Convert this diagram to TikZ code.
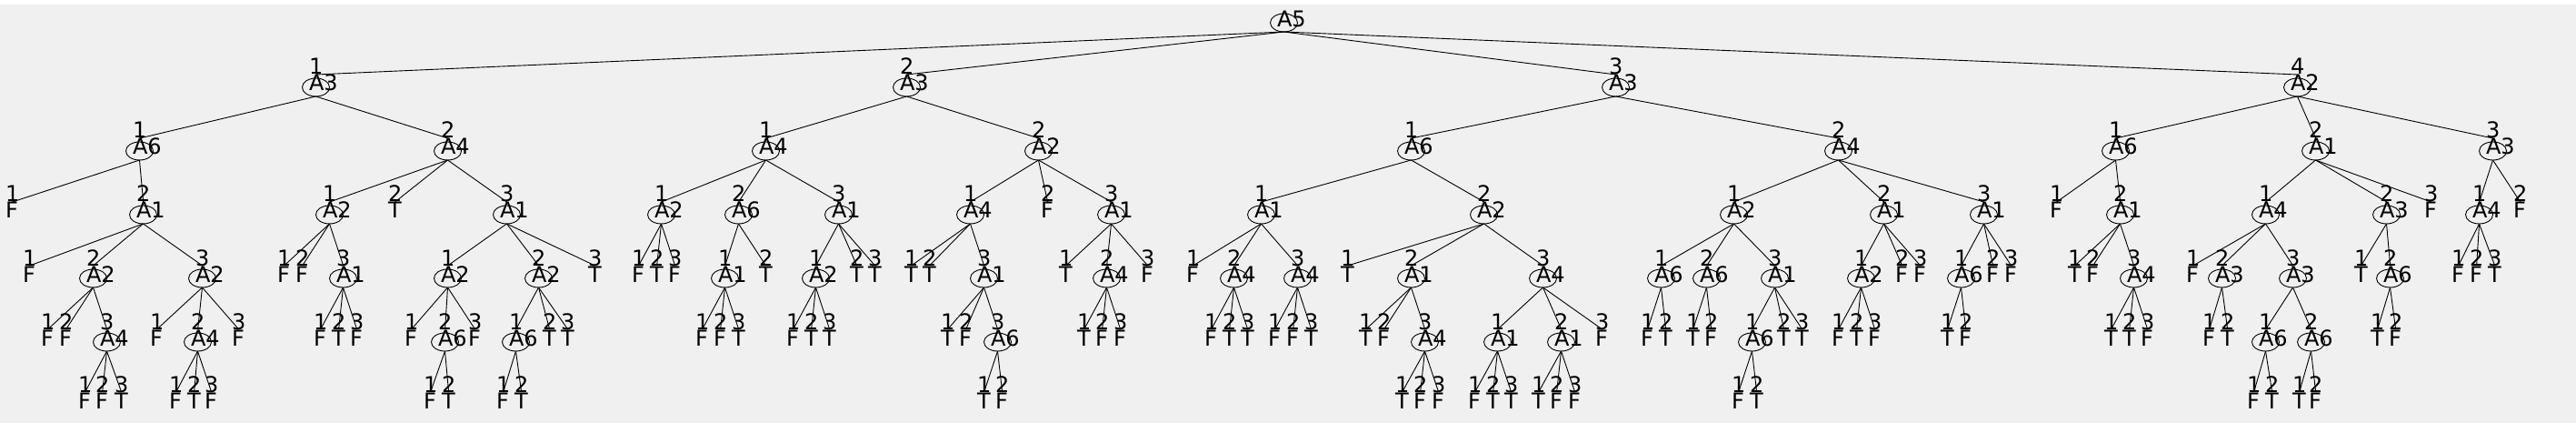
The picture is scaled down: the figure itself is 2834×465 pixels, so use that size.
\documentclass[tikz,border=0pt]{standalone}
\usepackage{fontspec}
\setmainfont{DejaVu Sans}
\usetikzlibrary{shapes.geometric}
\definecolor{bgc}{HTML}{F0F0F0}
\tikzset{
  ell/.style={ellipse,draw=black,line width=0.9pt,minimum width=30pt,minimum height=20pt,inner sep=0pt,outer sep=0pt},
  txt/.style={anchor=base west,inner sep=0pt,outer sep=0pt,text height=17pt,text depth=0pt,font=\fontsize{24}{24}\selectfont},
  num/.style={anchor=base west,inner sep=0pt,outer sep=0pt,text height=17pt,text depth=0pt,font=\fontsize{24}{24}\selectfont},
  edge/.style={draw=black,line width=0.9pt}
}
\newcommand\mkint[6]{%
  \node[ell] (#1) at ({#3+7.5},{#4-4}) {};
  \node[txt] (#1-t) at (#3,#4) {#6};
  \node[num] (#1-n) at (#3,{#4-18}) {#5};
  \draw[edge] (#2.south) -- (#1-n.south);}
\newcommand\mkleaf[6]{%
  \node[txt] (#1-t) at (#3,#4) {#6};
  \node[num] (#1-n) at (#3,{#4-18}) {#5};
  \draw[edge] (#2.south) -- (#1-n.south);}
\begin{document}
\begin{tikzpicture}[x=1pt,y=-1pt]
\useasboundingbox (0,0) rectangle (2834,465);
\fill[white] (0,0) rectangle (2834,465);
\fill[bgc] (0,5) rectangle (2834,465);
\node[ell] (n) at (1412.5,25) {};
\node[txt] (n-t) at (1405,30) {A5};
% subtree 1
\mkint{n1}{n}{340}{100}{1}{A3}
\mkint{n11}{n1}{146}{170}{1}{A6}
\mkleaf{n111}{n11}{6}{240}{1}{F}
\mkint{n112}{n11}{150}{240}{2}{A1}
\mkleaf{n1121}{n112}{25}{310}{1}{F}
\mkint{n1122}{n112}{95}{310}{2}{A2}
\mkleaf{n11221}{n1122}{45}{380}{1}{F}
\mkleaf{n11222}{n1122}{65}{380}{2}{F}
\mkint{n11223}{n1122}{110}{380}{3}{A4}
\mkleaf{n112231}{n11223}{86}{449}{1}{F}
\mkleaf{n112232}{n11223}{105}{449}{2}{F}
\mkleaf{n112233}{n11223}{126}{449}{3}{T}
\mkint{n1123}{n112}{215}{310}{3}{A2}
\mkleaf{n11231}{n1123}{165}{380}{1}{F}
\mkint{n11232}{n1123}{210}{380}{2}{A4}
\mkleaf{n112321}{n11232}{186}{449}{1}{F}
\mkleaf{n112322}{n11232}{206}{449}{2}{T}
\mkleaf{n112323}{n11232}{225}{449}{3}{F}
\mkleaf{n11233}{n1123}{255}{380}{3}{F}
\mkint{n12}{n1}{485}{170}{2}{A4}
\mkint{n121}{n12}{355}{240}{1}{A2}
\mkleaf{n1211}{n121}{305}{310}{1}{F}
\mkleaf{n1212}{n121}{325}{310}{2}{F}
\mkint{n1213}{n121}{370}{310}{3}{A1}
\mkleaf{n12131}{n1213}{345}{380}{1}{F}
\mkleaf{n12132}{n1213}{365}{380}{2}{T}
\mkleaf{n12133}{n1213}{385}{380}{3}{F}
\mkleaf{n122}{n12}{427}{240}{2}{T}
\mkint{n123}{n12}{550}{240}{3}{A1}
\mkint{n1231}{n123}{485}{310}{1}{A2}
\mkleaf{n12311}{n1231}{445}{380}{1}{F}
\mkint{n12312}{n1231}{482}{380}{2}{A6}
\mkleaf{n123121}{n12312}{466}{449}{1}{F}
\mkleaf{n123122}{n12312}{486}{449}{2}{T}
\mkleaf{n12313}{n1231}{515}{380}{3}{F}
\mkint{n1232}{n123}{585}{310}{2}{A2}
\mkint{n12321}{n1232}{560}{380}{1}{A6}
\mkleaf{n123211}{n12321}{546}{449}{1}{F}
\mkleaf{n123212}{n12321}{566}{449}{2}{T}
\mkleaf{n12322}{n1232}{597}{380}{2}{T}
\mkleaf{n12323}{n1232}{617}{380}{3}{T}
\mkleaf{n1233}{n123}{647}{310}{3}{T}
% subtree 2
\mkint{n2}{n}{990}{100}{2}{A3}
\mkint{n21}{n2}{835}{170}{1}{A4}
\mkint{n211}{n21}{720}{240}{1}{A2}
\mkleaf{n2111}{n211}{695}{310}{1}{F}
\mkleaf{n2112}{n211}{715}{310}{2}{T}
\mkleaf{n2113}{n211}{735}{310}{3}{F}
\mkint{n212}{n21}{805}{240}{2}{A6}
\mkint{n2121}{n212}{790}{310}{1}{A1}
\mkleaf{n21211}{n2121}{765}{380}{1}{F}
\mkleaf{n21212}{n2121}{785}{380}{2}{F}
\mkleaf{n21213}{n2121}{805}{380}{3}{T}
\mkleaf{n2122}{n212}{835}{310}{2}{T}
\mkint{n213}{n21}{915}{240}{3}{A1}
\mkint{n2131}{n213}{890}{310}{1}{A2}
\mkleaf{n21311}{n2131}{865}{380}{1}{F}
\mkleaf{n21312}{n2131}{885}{380}{2}{T}
\mkleaf{n21313}{n2131}{905}{380}{3}{T}
\mkleaf{n2132}{n213}{935}{310}{2}{T}
\mkleaf{n2133}{n213}{955}{310}{3}{T}
\mkint{n22}{n2}{1135}{170}{2}{A2}
\mkint{n221}{n22}{1060}{240}{1}{A4}
\mkleaf{n2211}{n221}{995}{310}{1}{T}
\mkleaf{n2212}{n221}{1015}{310}{2}{T}
\mkint{n2213}{n221}{1075}{310}{3}{A1}
\mkleaf{n22131}{n2213}{1035}{380}{1}{T}
\mkleaf{n22132}{n2213}{1055}{380}{2}{F}
\mkint{n22133}{n2213}{1090}{380}{3}{A6}
\mkleaf{n221331}{n22133}{1075}{449}{1}{T}
\mkleaf{n221332}{n22133}{1095}{449}{2}{F}
\mkleaf{n222}{n22}{1145}{240}{2}{F}
\mkint{n223}{n22}{1215}{240}{3}{A1}
\mkleaf{n2231}{n223}{1165}{310}{1}{T}
\mkint{n2232}{n223}{1210}{310}{2}{A4}
\mkleaf{n22321}{n2232}{1185}{380}{1}{T}
\mkleaf{n22322}{n2232}{1205}{380}{2}{F}
\mkleaf{n22323}{n2232}{1225}{380}{3}{F}
\mkleaf{n2233}{n223}{1255}{310}{3}{F}
% subtree 3
\mkint{n3}{n}{1770}{100}{3}{A3}
\mkint{n31}{n3}{1545}{170}{1}{A6}
\mkint{n311}{n31}{1380}{240}{1}{A1}
\mkleaf{n3111}{n311}{1305}{310}{1}{F}
\mkint{n3112}{n311}{1350}{310}{2}{A4}
\mkleaf{n31121}{n3112}{1325}{380}{1}{F}
\mkleaf{n31122}{n3112}{1345}{380}{2}{T}
\mkleaf{n31123}{n3112}{1365}{380}{3}{T}
\mkint{n3113}{n311}{1420}{310}{3}{A4}
\mkleaf{n31131}{n3113}{1395}{380}{1}{F}
\mkleaf{n31132}{n3113}{1415}{380}{2}{F}
\mkleaf{n31133}{n3113}{1435}{380}{3}{T}
\mkint{n312}{n31}{1625}{240}{2}{A2}
\mkleaf{n3121}{n312}{1475}{310}{1}{T}
\mkint{n3122}{n312}{1545}{310}{2}{A1}
\mkleaf{n31221}{n3122}{1495}{380}{1}{T}
\mkleaf{n31222}{n3122}{1515}{380}{2}{F}
\mkint{n31223}{n3122}{1560}{380}{3}{A4}
\mkleaf{n312231}{n31223}{1535}{449}{1}{T}
\mkleaf{n312232}{n31223}{1555}{449}{2}{F}
\mkleaf{n312233}{n31223}{1575}{449}{3}{F}
\mkint{n3123}{n312}{1690}{310}{3}{A4}
\mkint{n31231}{n3123}{1640}{380}{1}{A1}
\mkleaf{n312311}{n31231}{1615}{449}{1}{F}
\mkleaf{n312312}{n31231}{1635}{449}{2}{T}
\mkleaf{n312313}{n31231}{1655}{449}{3}{T}
\mkint{n31232}{n3123}{1710}{380}{2}{A1}
\mkleaf{n312321}{n31232}{1685}{449}{1}{T}
\mkleaf{n312322}{n31232}{1705}{449}{2}{F}
\mkleaf{n312323}{n31232}{1725}{449}{3}{F}
\mkleaf{n31233}{n3123}{1755}{380}{3}{F}
\mkint{n32}{n3}{2015}{170}{2}{A4}
\mkint{n321}{n32}{1900}{240}{1}{A2}
\mkint{n3211}{n321}{1820}{310}{1}{A6}
\mkleaf{n32111}{n3211}{1805}{380}{1}{F}
\mkleaf{n32112}{n3211}{1825}{380}{2}{T}
\mkint{n3212}{n321}{1870}{310}{2}{A6}
\mkleaf{n32121}{n3212}{1855}{380}{1}{T}
\mkleaf{n32122}{n3212}{1875}{380}{2}{F}
\mkint{n3213}{n321}{1945}{310}{3}{A1}
\mkint{n32131}{n3213}{1920}{380}{1}{A6}
\mkleaf{n321311}{n32131}{1905}{449}{1}{F}
\mkleaf{n321312}{n32131}{1925}{449}{2}{T}
\mkleaf{n32132}{n3213}{1955}{380}{2}{T}
\mkleaf{n32133}{n3213}{1975}{380}{3}{T}
\mkint{n322}{n32}{2065}{240}{2}{A1}
\mkint{n3221}{n322}{2040}{310}{1}{A2}
\mkleaf{n32211}{n3221}{2015}{380}{1}{F}
\mkleaf{n32212}{n3221}{2035}{380}{2}{T}
\mkleaf{n32213}{n3221}{2055}{380}{3}{F}
\mkleaf{n3222}{n322}{2085}{310}{2}{F}
\mkleaf{n3223}{n322}{2105}{310}{3}{F}
\mkint{n323}{n32}{2175}{240}{3}{A1}
\mkint{n3231}{n323}{2150}{310}{1}{A6}
\mkleaf{n32311}{n3231}{2135}{380}{1}{T}
\mkleaf{n32312}{n3231}{2155}{380}{2}{F}
\mkleaf{n3232}{n323}{2185}{310}{2}{F}
\mkleaf{n3233}{n323}{2205}{310}{3}{F}
% subtree 4
\mkint{n4}{n}{2520}{100}{4}{A2}
\mkint{n41}{n4}{2320}{170}{1}{A6}
\mkleaf{n411}{n41}{2255}{240}{1}{F}
\mkint{n412}{n41}{2325}{240}{2}{A1}
\mkleaf{n4121}{n412}{2275}{310}{1}{T}
\mkleaf{n4122}{n412}{2295}{310}{2}{F}
\mkint{n4123}{n412}{2340}{310}{3}{A4}
\mkleaf{n41231}{n4123}{2315}{380}{1}{T}
\mkleaf{n41232}{n4123}{2335}{380}{2}{T}
\mkleaf{n41233}{n4123}{2355}{380}{3}{F}
\mkint{n42}{n4}{2540}{170}{2}{A1}
\mkint{n421}{n42}{2485}{240}{1}{A4}
\mkleaf{n4211}{n421}{2405}{310}{1}{F}
\mkint{n4212}{n421}{2437}{310}{2}{A3}
\mkleaf{n42121}{n4212}{2423}{380}{1}{F}
\mkleaf{n42122}{n4212}{2443}{380}{2}{T}
\mkint{n4213}{n421}{2515}{310}{3}{A3}
\mkint{n42131}{n4213}{2485}{380}{1}{A6}
\mkleaf{n421311}{n42131}{2472}{449}{1}{F}
\mkleaf{n421312}{n42131}{2492}{449}{2}{T}
\mkint{n42132}{n4213}{2535}{380}{2}{A6}
\mkleaf{n421321}{n42132}{2522}{449}{1}{T}
\mkleaf{n421322}{n42132}{2540}{449}{2}{F}
\mkint{n422}{n42}{2618}{240}{2}{A3}
\mkleaf{n4221}{n422}{2590}{310}{1}{T}
\mkint{n4222}{n422}{2622}{310}{2}{A6}
\mkleaf{n42221}{n4222}{2608}{380}{1}{T}
\mkleaf{n42222}{n4222}{2628}{380}{2}{F}
\mkleaf{n423}{n42}{2667}{240}{3}{F}
\mkint{n43}{n4}{2735}{170}{3}{A3}
\mkint{n431}{n43}{2720}{240}{1}{A4}
\mkleaf{n4311}{n431}{2697}{310}{1}{F}
\mkleaf{n4312}{n431}{2717}{310}{2}{F}
\mkleaf{n4313}{n431}{2737}{310}{3}{T}
\mkleaf{n432}{n43}{2765}{240}{2}{F}
\end{tikzpicture}
\end{document}
